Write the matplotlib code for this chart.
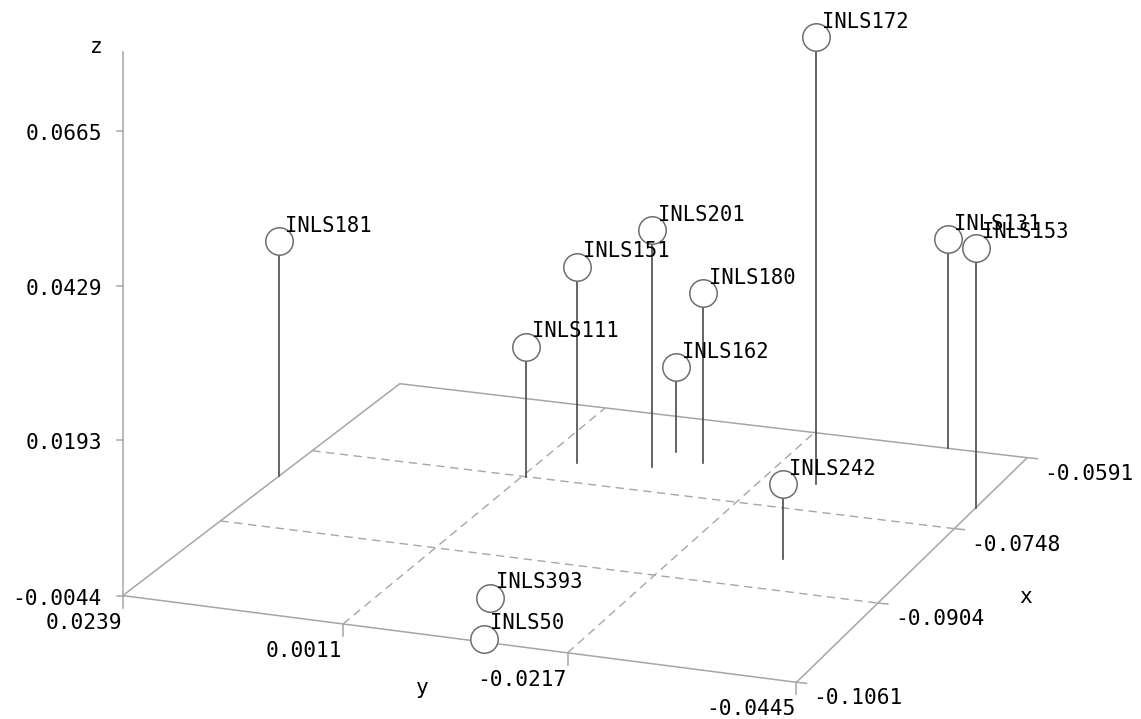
import numpy as np
import matplotlib
matplotlib.use("Agg")
import matplotlib.pyplot as plt

# ---------------- data ----------------
labels = ['INLS172', 'INLS181', 'INLS201', 'INLS151', 'INLS180', 'INLS111',
          'INLS162', 'INLS131', 'INLS153', 'INLS242', 'INLS393', 'INLS50']
x_vals = [-0.0694, -0.0805, -0.0699, -0.0709, -0.0679, -0.0749,
          -0.0664, -0.0591, -0.0703, -0.0845, -0.0982, -0.1055]
y_vals = [-0.0273, 0.0239, -0.0100, -0.0025, -0.0144, 0.0007,
          -0.0107, -0.0361, -0.0445, -0.0317, -0.0092, -0.0129]
z_vals = [0.0669, 0.0331, 0.0336, 0.0271, 0.0229, 0.0164,
          0.0093, 0.0294, 0.0367, 0.0072, -0.0044, -0.0044]

x_ticks = [-0.1061, -0.0904, -0.0748, -0.0591]
y_ticks = [0.0239, 0.0011, -0.0217, -0.0445]
z_ticks = [-0.0044, 0.0193, 0.0429, 0.0665]
z_axis_top = 0.0786

# ---------------- camera (layout) ----------------
W, Hh = 1141, 719
floor_px = [(122.8, 595.6), (399.8, 383.7), (1027.2, 457.7), (796.5, 682.3)]
floor_uv = [(0, 0), (1, 0), (1, 1), (0, 1)]
z_px_per_unit = (595 - 130.7) / (0.0665 + 0.0044)

A = []
for (u, v), (X, Y) in zip(floor_uv, floor_px):
    A.append([u, v, 1, 0, 0, 0, -X * u, -X * v, -X])
    A.append([0, 0, 0, u, v, 1, -Y * u, -Y * v, -Y])
_, _, Vt = np.linalg.svd(np.array(A, float))
Hm = Vt[-1].reshape(3, 3)
Hm = Hm / Hm[2, 2]

XMIN, XMAX = min(x_ticks), max(x_ticks)
YMIN, YMAX = min(y_ticks), max(y_ticks)
ZMIN = min(z_ticks)


def proj(x, y, z):
    x = np.atleast_1d(np.asarray(x, float))
    y = np.atleast_1d(np.asarray(y, float))
    z = np.atleast_1d(np.asarray(z, float))
    x, y, z = np.broadcast_arrays(x, y, z)
    u = (x - XMIN) / (XMAX - XMIN)
    v = (YMAX - y) / (YMAX - YMIN)
    p = Hm @ np.vstack([u, v, np.ones_like(u)])
    w = p[2]
    return p[0] / w, p[1] / w - z_px_per_unit * (z - ZMIN) / w, w


fig = plt.figure(figsize=(W / 100, Hh / 100), dpi=100)
ax = fig.add_axes([0, 0, 1, 1])
ax.set_xlim(0, W)
ax.set_ylim(Hh, 0)
ax.axis('off')

frame_c = '#a6a6a6'
stem_c = '#4a4a4a'
circ_c = '#6e6e6e'
font = 'DejaVu Sans Mono'
tick_fs = 15.3
lab_fs = 14.8

# floor outline
cx_ = [XMIN, XMAX, XMAX, XMIN, XMIN]
cy_ = [YMAX, YMAX, YMIN, YMIN, YMAX]
px, py, _ = proj(cx_, cy_, ZMIN)
ax.plot(px, py, color=frame_c, lw=1.1, zorder=1)

# dashed grid
for xt in x_ticks[1:-1]:
    gx, gy, _ = proj([xt, xt], [YMAX, YMIN], ZMIN)
    ax.plot(gx, gy, color=frame_c, lw=1.0, dashes=(6, 4), zorder=1)
for yt in y_ticks[1:-1]:
    gx, gy, _ = proj([XMIN, XMAX], [yt, yt], ZMIN)
    ax.plot(gx, gy, color=frame_c, lw=1.0, dashes=(6, 4), zorder=1)

# z axis
zx, zy, _ = proj([XMIN, XMIN], [YMAX, YMAX], [ZMIN, z_axis_top])
ax.plot(zx, zy, color=frame_c, lw=1.1, zorder=1)
for zt in z_ticks:
    tx, ty, _ = proj(XMIN, YMAX, zt)
    ax.plot([tx[0] - 6, tx[0]], [ty[0], ty[0]], color=frame_c, lw=1.1, zorder=1)
    ax.text(tx[0] - 21, ty[0] + 3, f'{zt:.4f}', ha='right', va='center',
            fontsize=tick_fs, family=font, color='black')
ax.text(zx[1] - 27, zy[1] - 5, 'z', ha='center', va='center',
        fontsize=tick_fs, family=font, color='black')

# y ticks (front edge)
for yt in y_ticks:
    tx, ty, _ = proj(XMIN, yt, ZMIN)
    ax.plot([tx[0], tx[0]], [ty[0], ty[0] + 12], color=frame_c, lw=1.1, zorder=1)
    ax.text(tx[0] - 1, ty[0] + 17, f'{yt:.4f}', ha='right', va='top',
            fontsize=tick_fs, family=font, color='black')
ymx, ymy, _ = proj(XMIN, (YMAX + YMIN) / 2, ZMIN)
ax.text(ymx[0] - 32, ymy[0] + 50, 'y', ha='center', va='center',
        fontsize=tick_fs, family=font, color='black')

# x ticks (right edge)
for xt in x_ticks:
    tx, ty, _ = proj(xt, YMIN, ZMIN)
    ax.plot([tx[0], tx[0] + 10], [ty[0], ty[0] + 1], color=frame_c, lw=1.1, zorder=1)
    ax.text(tx[0] + 17, ty[0] + 16, f'{xt:.4f}', ha='left', va='center',
            fontsize=tick_fs, family=font, color='black')
xmx, xmy, _ = proj((XMIN + XMAX) / 2, YMIN, ZMIN)
ax.text(xmx[0] + 109, xmy[0] + 32, 'x', ha='center', va='center',
        fontsize=tick_fs, family=font, color='black')

# needles and balloons
bx, by, _ = proj(x_vals, y_vals, ZMIN)
tx, ty, tw = proj(x_vals, y_vals, z_vals)
order = np.argsort(-tw)  # far first
for i in order:
    ax.plot([bx[i], tx[i]], [by[i], ty[i]], color=stem_c, lw=1.2, zorder=2)
for rank, i in enumerate(order):
    ax.scatter([tx[i]], [ty[i]], s=390, facecolor='white', edgecolor=circ_c,
               linewidth=1.1, zorder=3 + rank * 0.01)
for i in range(len(labels)):
    ax.text(tx[i] + 6, ty[i] - 9.5, labels[i], ha='left', va='baseline',
            fontsize=lab_fs, family=font, color='black', zorder=10)

fig.savefig('out.png', dpi=100)
